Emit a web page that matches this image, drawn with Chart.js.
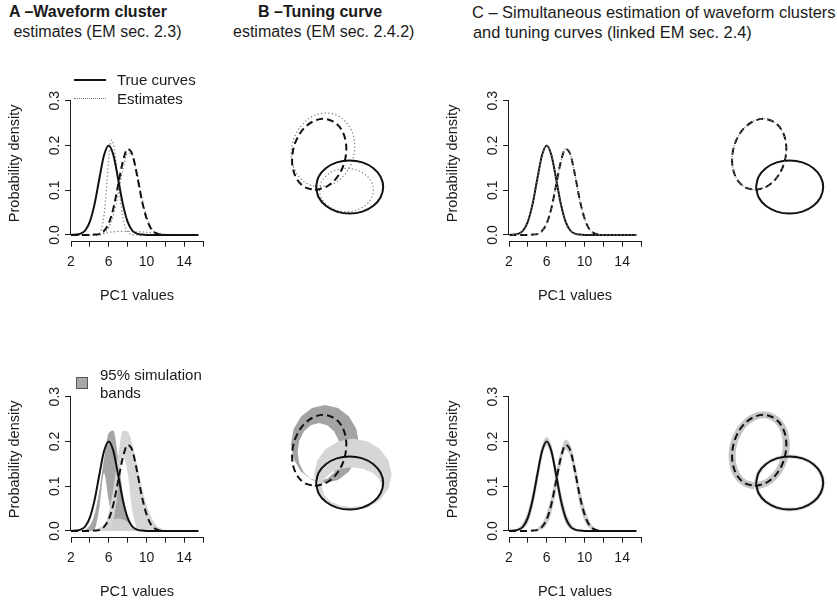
<!DOCTYPE html>
<html>
<head>
<meta charset="utf-8">
<script src="https://cdn.jsdelivr.net/npm/chart.js@4.4.1/dist/chart.umd.min.js"></script>
<style>
  body { margin: 0; width: 837px; height: 604px; overflow: hidden; background: #fff; position: relative;
         font-family: "Liberation Sans", Arial, Helvetica, sans-serif; color: #1a1a1a; }
  canvas { position: absolute; }
  .t { position: absolute; white-space: pre; font-size: 16px; line-height: 20px; }
  .lg { position: absolute; white-space: pre; font-size: 15px; line-height: 18px; }
  .sw { position: absolute; }
</style>
</head>
<body>
<div class="t" style="left:9px;top:2px;font-weight:bold">A –Waveform cluster</div>
<div class="t" style="left:9px;top:22px"> estimates (EM sec. 2.3)</div>
<div class="t" style="left:258px;top:2px;font-weight:bold">B –Tuning curve</div>
<div class="t" style="left:233px;top:22px">estimates (EM sec. 2.4.2)</div>
<div class="t" style="left:472px;top:2px;font-size:16.4px">C – Simultaneous estimation of waveform clusters</div>
<div class="t" style="left:473px;top:22px;font-size:16.4px">and tuning curves (linked EM sec. 2.4)</div>

<canvas id="densA1" width="215" height="240" style="left:0;top:65px"></canvas>
<canvas id="densC1" width="215" height="240" style="left:438px;top:65px"></canvas>
<canvas id="densA2" width="215" height="240" style="left:0;top:361px"></canvas>
<canvas id="densC2" width="215" height="240" style="left:438px;top:361px"></canvas>
<canvas id="tuneB1" width="157" height="170" style="left:240px;top:85px"></canvas>
<canvas id="tuneC1" width="157" height="170" style="left:680px;top:85px"></canvas>
<canvas id="tuneB2" width="157" height="170" style="left:240px;top:381px"></canvas>
<canvas id="tuneC2" width="157" height="170" style="left:680px;top:381px"></canvas>

<div class="sw" style="left:74px;top:79px;width:32px;border-top:2px solid #111"></div>
<div class="lg" style="left:117px;top:71px">True curves</div>
<div class="sw" style="left:74px;top:98px;width:32px;border-top:1px dotted #777"></div>
<div class="lg" style="left:117px;top:90px">Estimates</div>
<div class="sw" style="left:76px;top:377px;width:10px;height:10px;background:#a8a8a8;border:1px solid #555"></div>
<div class="lg" style="left:100px;top:366px">95% simulation
bands</div>

<script>
const font = "'Liberation Sans', Arial, Helvetica, sans-serif";
const ink = '#1a1a1a';

// ---- waveform cluster densities (PC1 grid) ----
const pcX = [2,2.5,3,3.5,4,4.5,5,5.5,6,6.5,7,7.5,8,8.5,9,9.5,10,10.5,11,11.5,12,12.5,13,13.5,14,14.5,15,15.5];
const trueSolid = [0,0.001,0.003,0.010,0.030,0.069,0.125,0.178,0.200,0.178,0.125,0.069,0.030,0.010,0.003,0.001,0,0,0,0,0,0,0,0,0,0,0,0];
const trueDashed = [0,0,0,0,0,0.001,0.002,0.009,0.026,0.060,0.112,0.164,0.192,0.180,0.134,0.079,0.038,0.014,0.004,0.001,0,0,0,0,0,0,0,0];
const estDashed = [0,0,0,0,0,0,0.001,0.005,0.017,0.044,0.091,0.146,0.182,0.179,0.139,0.086,0.043,0.017,0.005,0.001,0,0,0,0,0,0,0,0];
const estWide = [0,0,0,0,0,0,0,0.003,0.006,0.007,0.008,0.008,0.008,0.008,0.007,0.007,0.006,0.005,0.004,0.003,0.002,0.001,0,0,0,0,0,0];
const estSolidX = [2,4.5,5,5.5,5.8,6.05,6.3,6.6,7,7.5,8,8.5,9,15.5];
const estSolid = [0,0,0.003,0.044,0.114,0.182,0.212,0.191,0.119,0.039,0.007,0.001,0,0];

// simulation bands, EM alone (panel A bottom)
const bandDarkHi = [0,0,0.001,0.003,0.012,0.038,0.090,0.161,0.219,0.224,0.164,0.085,0.031,0.008,0.001,0,0,0,0,0,0,0,0,0,0,0,0,0];
const bandDarkLo = [0,0,0,0,0,0.004,0.051,0.129,0.069,0.008,0,0,0,0,0,0,0,0,0,0,0,0,0,0,0,0,0,0];
const bandLightHi = [0,0,0,0,0,0,0.003,0.012,0.040,0.096,0.170,0.224,0.222,0.194,0.148,0.100,0.059,0.031,0.014,0.006,0.002,0.001,0,0,0,0,0,0];
const bandLightLo = [0,0,0,0,0,0,0,0,0.002,0.023,0.094,0.167,0.131,0.045,0.007,0.001,0,0,0,0,0,0,0,0,0,0,0,0];
const bandLowHump = [0,0,0,0,0,0.003,0.007,0.013,0.020,0.026,0.028,0.026,0.020,0.013,0.007,0.003,0.001,0,0,0,0,0,0,0,0,0,0,0];

// simulation bands, linked EM (panel C bottom)
const cBandSolidHi = [0,0.002,0.007,0.019,0.045,0.088,0.143,0.191,0.210,0.191,0.143,0.088,0.045,0.019,0.007,0.002,0,0,0,0,0,0,0,0,0,0,0,0];
const cBandSolidLo = [0,0,0.001,0.005,0.018,0.051,0.105,0.164,0.190,0.164,0.105,0.051,0.018,0.005,0.001,0,0,0,0,0,0,0,0,0,0,0,0,0];
const cBandDashHi = [0,0,0,0,0,0.002,0.006,0.017,0.040,0.079,0.131,0.179,0.204,0.193,0.152,0.099,0.054,0.024,0.009,0.003,0.001,0,0,0,0,0,0,0];
const cBandDashLo = [0,0,0,0,0,0,0.001,0.004,0.014,0.041,0.090,0.148,0.181,0.166,0.114,0.059,0.023,0.007,0.001,0,0,0,0,0,0,0,0,0];

const xTickVals = [2,4,6,8,10,12,14,16];
const xTickShown = [2,6,10,14];
const yTickVals = [0,0.1,0.2,0.3];

// ---- tuning curves, polar plane (x, y components, origin = zero rate) ----
const tuneSolid = [[0,0.5],[1.3,-4.6],[4.9,-8.9],[10.4,-11.8],[16.8,-12.8],[23.2,-11.8],[28.7,-8.9],[32.3,-4.6],[33.6,0.5],[32.3,5.6],[28.7,9.9],[23.2,12.8],[16.8,13.8],[10.4,12.8],[4.9,9.9],[1.3,5.6],[0,0.5]];
const tuneDashed = [[-0.5,-1.0],[4.8,0.4],[9.6,4.2],[13.2,10.0],[15.0,16.8],[14.8,23.6],[12.6,29.4],[8.7,33.2],[3.7,34.6],[-1.6,33.2],[-6.4,29.4],[-10.0,23.6],[-11.8,16.8],[-11.6,10.0],[-9.4,4.2],[-5.5,0.4],[-0.5,-1.0]];
const tuneEstDashedB = [[2.0,0.5],[8.2,1.9],[13.6,5.9],[17.5,11.9],[19.3,19.0],[18.7,26.1],[15.7,32.1],[10.9,36.1],[5.0,37.5],[-1.2,36.1],[-6.6,32.1],[-10.5,26.1],[-12.3,19.0],[-11.7,11.9],[-8.7,5.9],[-3.9,1.9],[2.0,0.5]];
const tuneEstSolidB = [[1.7,-1.0],[2.7,-5.1],[5.7,-8.6],[10.0,-11.0],[15.2,-11.8],[20.4,-11.0],[24.7,-8.6],[27.7,-5.1],[28.7,-1.0],[27.7,3.1],[24.7,6.6],[20.4,9.0],[15.2,9.8],[10.0,9.0],[5.7,6.6],[2.7,3.1],[1.7,-1.0]];
const tuneBandDarkOut = [[4.5,0.5],[11.0,2.0],[16.5,6.2],[20.2,12.5],[21.5,20.0],[20.2,27.5],[16.5,33.8],[11.0,38.0],[4.5,39.5],[-2.0,38.0],[-7.5,33.8],[-11.2,27.5],[-12.5,20.0],[-11.2,12.5],[-7.5,6.2],[-2.0,2.0],[4.5,0.5]];
const tuneBandDarkIn = [[1.5,1.5],[-2.6,2.6],[-6.1,5.8],[-8.4,10.4],[-9.2,16.0],[-8.4,21.6],[-6.1,26.3],[-2.6,29.4],[1.5,30.5],[5.6,29.4],[9.1,26.3],[11.4,21.6],[12.2,16.0],[11.4,10.4],[9.1,5.8],[5.6,2.6],[1.5,1.5]];
const tuneBandLightOut = [[-1.0,4.7],[0.5,-2.2],[4.7,-8.0],[11.0,-11.9],[18.4,-13.3],[25.8,-11.9],[32.1,-8.0],[36.3,-2.2],[37.8,4.7],[36.3,11.6],[32.1,17.4],[25.8,21.3],[18.4,22.7],[11.0,21.3],[4.7,17.4],[0.5,11.6],[-1.0,4.7]];
const tuneBandLightIn = [[2.9,-1.6],[4.0,2.2],[7.2,5.5],[12.1,7.6],[17.9,8.4],[23.6,7.6],[28.5,5.5],[31.7,2.2],[32.9,-1.6],[31.7,-5.4],[28.5,-8.7],[23.6,-10.8],[17.9,-11.6],[12.1,-10.8],[7.2,-8.7],[4.0,-5.4],[2.9,-1.6]];

function xy(xs, ys) { return xs.map((x, i) => ({ x: x, y: ys[i] })); }
function pairs(list) { return list.map(p => ({ x: p[0], y: p[1] })); }

function curve(data, color, width, dash, order) {
  return { data: data, showLine: true, borderColor: color, borderWidth: width, borderDash: dash || [],
           pointRadius: 0, fill: false, cubicInterpolationMode: 'monotone', order: order };
}
function band(hi, lo, color, order) {
  return [
    { data: xy(pcX, hi), showLine: true, borderWidth: 0, pointRadius: 0, fill: '+1',
      backgroundColor: color, cubicInterpolationMode: 'monotone', order: order },
    { data: xy(pcX, lo), showLine: true, borderWidth: 0, pointRadius: 0, fill: false,
      cubicInterpolationMode: 'monotone', order: order }
  ];
}

// R style y axis: line only from first to last tick
const yAxisLine = {
  id: 'yAxisLine',
  afterDraw(chart) {
    const y = chart.scales.y;
    const ctx = chart.ctx;
    const x0 = Math.round(chart.chartArea.left) - 0.5;
    ctx.save();
    ctx.strokeStyle = ink;
    ctx.lineWidth = 1;
    ctx.beginPath();
    ctx.moveTo(x0, y.getPixelForValue(yTickVals[0]));
    ctx.lineTo(x0, y.getPixelForValue(yTickVals[yTickVals.length - 1]));
    ctx.stroke();
    ctx.restore();
  }
};

function densityChart(id, datasets) {
  return new Chart(document.getElementById(id), {
    type: 'scatter',
    data: { datasets: datasets },
    options: {
      responsive: false, animation: false, events: [],
      layout: { padding: { top: 20, right: 12, left: 0, bottom: 0 } },
      plugins: { legend: { display: false }, tooltip: { enabled: false } },
      scales: {
        x: {
          type: 'linear', min: 2, max: 16,
          afterBuildTicks: s => { s.ticks = xTickVals.map(v => ({ value: v })); },
          afterFit: s => { s.height = 63.3; },
          border: { display: true, color: ink, width: 1 },
          grid: { drawOnChartArea: false, drawTicks: true, tickLength: 5, color: ink },
          ticks: { autoSkip: false, maxRotation: 0, padding: 7, color: ink, font: { family: font, size: 14 },
                   callback: v => xTickShown.includes(v) ? String(v) : '' },
          title: { display: true, text: 'PC1 values', color: ink, font: { family: font, size: 14.5 },
                   padding: { top: 0, bottom: 0 } }
        },
        y: {
          min: -0.015, max: 0.335,
          afterBuildTicks: s => { s.ticks = yTickVals.map(v => ({ value: v })); },
          afterFit: s => { s.width = 71; },
          border: { display: false },
          grid: { drawOnChartArea: false, drawTicks: true, tickLength: 6, color: ink },
          ticks: { minRotation: 90, maxRotation: 90, crossAlign: 'center', padding: 0, color: ink,
                   font: { family: font, size: 14 }, callback: v => v.toFixed(1) },
          title: { display: true, text: 'Probability density', color: ink, font: { family: font, size: 14.5 },
                   padding: { top: 6, bottom: 0 } }
        }
      }
    },
    plugins: [yAxisLine]
  });
}

function loopLine(list, color, width, dash, order) {
  return { data: pairs(list), showLine: true, borderColor: color, borderWidth: width, borderDash: dash || [],
           pointRadius: 0, fill: false, tension: 0.35, order: order };
}
function loopBand(outer, inner, color, order) {
  return { data: pairs(outer.concat(inner)), showLine: true, borderWidth: 0, pointRadius: 0,
           fill: 'shape', backgroundColor: color, tension: 0, order: order };
}

function tuningChart(id, datasets) {
  return new Chart(document.getElementById(id), {
    type: 'scatter',
    data: { datasets: datasets },
    options: {
      responsive: false, animation: false, events: [],
      layout: { padding: 0 },
      plugins: { legend: { display: false }, tooltip: { enabled: false } },
      scales: {
        x: { type: 'linear', display: false, min: -38, max: 40.5 },
        y: { type: 'linear', display: false, min: -33.5, max: 51.5 }
      }
    }
  });
}

const dash = [7, 4];
const dot = [1.2, 2.4];
const dotColor = '#777';

// A top: EM waveform estimates
densityChart('densA1', [
  curve(xy(pcX, trueSolid), '#111', 2, null, 0),
  curve(xy(pcX, trueDashed), '#111', 2, dash, 1),
  curve(xy(estSolidX, estSolid), dotColor, 1.2, dot, 2),
  curve(xy(pcX, estDashed), dotColor, 1.2, dot, 3),
  curve(xy(pcX, estWide), dotColor, 1.2, dot, 4)
]);

// A bottom: EM waveform simulation bands
densityChart('densA2', [
  curve(xy(pcX, trueSolid), '#111', 2, null, 0),
  curve(xy(pcX, trueDashed), '#111', 2, dash, 1)
].concat(
  band(bandDarkHi, bandDarkLo, '#a6a6a6', 8),
  [{ data: xy(pcX, bandLowHump), showLine: true, borderWidth: 0, pointRadius: 0, fill: 'origin',
     backgroundColor: '#cfcfcf', cubicInterpolationMode: 'monotone', order: 6 }],
  band(bandLightHi, bandLightLo, '#d6d6d6', 5)
));

// C top: linked EM estimates (coincide with truth)
densityChart('densC1', [
  curve(xy(pcX, trueSolid), '#111', 2, null, 1),
  curve(xy(pcX, trueDashed), '#111', 2, dash, 2),
  curve(xy(pcX, trueSolid), dotColor, 1.2, dot, 0),
  curve(xy(pcX, trueDashed), dotColor, 1.2, dot, 0)
]);

// C bottom: linked EM simulation bands
densityChart('densC2', [
  curve(xy(pcX, trueSolid), '#111', 2, null, 0),
  curve(xy(pcX, trueDashed), '#111', 2, dash, 1)
].concat(
  band(cBandSolidHi, cBandSolidLo, '#cdcdcd', 5),
  band(cBandDashHi, cBandDashLo, '#cdcdcd', 6)
));

// B top: tuning curve estimates
tuningChart('tuneB1', [
  loopLine(tuneSolid, '#111', 2, null, 0),
  loopLine(tuneDashed, '#111', 2, dash, 1),
  loopLine(tuneEstDashedB, dotColor, 1.2, dot, 2),
  loopLine(tuneEstSolidB, dotColor, 1.2, dot, 3)
]);

// B bottom: tuning simulation bands
tuningChart('tuneB2', [
  loopLine(tuneSolid, '#111', 2, null, 0),
  loopLine(tuneDashed, '#111', 2, dash, 1),
  loopBand(tuneBandLightOut, tuneBandLightIn, '#d6d6d6', 5),
  loopBand(tuneBandDarkOut, tuneBandDarkIn, '#a3a3a3', 6)
]);

// C top: linked EM tuning estimates
tuningChart('tuneC1', [
  loopLine(tuneSolid, '#111', 2, null, 1),
  loopLine(tuneDashed, '#111', 2, dash, 2),
  loopLine(tuneDashed, dotColor, 1.2, dot, 0)
]);

// C bottom: narrow bands around both curves
tuningChart('tuneC2', [
  loopLine(tuneSolid, '#111', 2, null, 0),
  loopLine(tuneDashed, '#111', 2, dash, 1),
  loopLine(tuneDashed, '#c6c6c6', 7, null, 5),
  loopLine(tuneSolid, '#dedede', 4, null, 6)
]);
</script>
</body>
</html>
